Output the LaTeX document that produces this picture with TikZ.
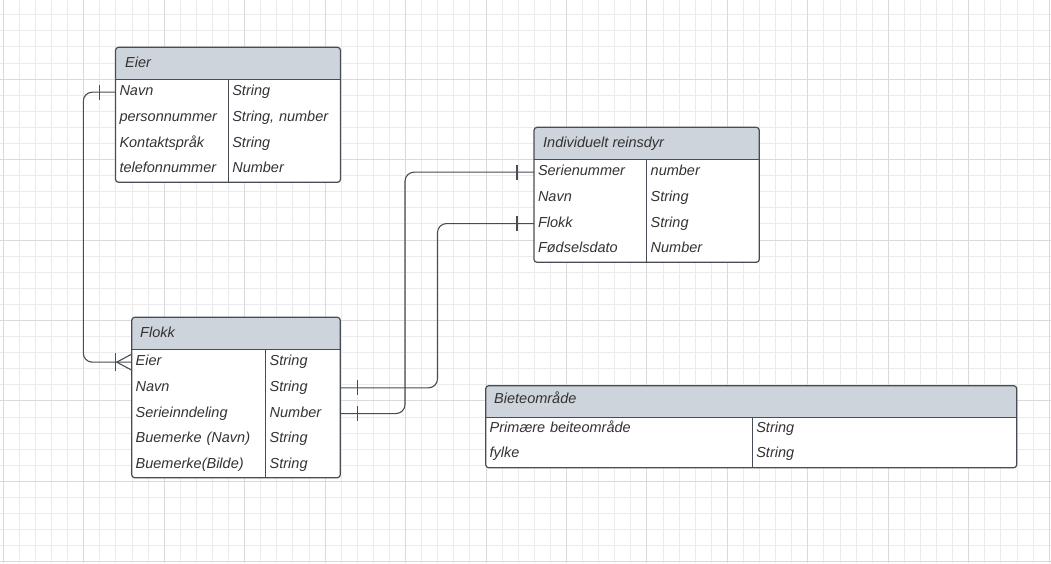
\documentclass[tikz,border=0pt]{standalone}
\usepackage{fontspec}
\setmainfont{Liberation Sans}
\usepackage{xcolor}
\usepackage{tikz}
\usetikzlibrary{positioning}

\definecolor{headfill}{HTML}{CED4DB}
\definecolor{edgegrey}{HTML}{474D54}
\definecolor{textgrey}{HTML}{333333}
\definecolor{gridlight}{HTML}{EBEBEB}
\definecolor{griddark}{HTML}{DADADA}

\begin{document}
\begin{tikzpicture}[x=1pt, y=-1pt,
        gridminor/.style={draw=gridlight, line width=0.9pt},
        gridmajor/.style={draw=griddark, line width=0.9pt},
        tblbox/.style={draw=edgegrey, line width=1.2pt, rounded corners=3pt},
        tblline/.style={draw=edgegrey, line width=1.1pt},
        headtxt/.style={anchor=base west, inner sep=0pt, text=textgrey,
            font=\fontsize{14.5}{16}\selectfont\itshape},
        cell/.style={anchor=north west, inner xsep=4pt, inner ysep=0pt, outer sep=0pt,
            minimum height=25.7pt, text height=10pt, text depth=3pt,
            text width=#1, align=left, text=textgrey,
            font=\fontsize{14.5}{16}\selectfont\itshape},
        conn/.style={draw=edgegrey, line width=1.1pt, rounded corners=9pt},
        onebar/.style={draw=edgegrey, line width=1.1pt}]

            \useasboundingbox (0,0) rectangle (1051,563);
            \fill[white] (0,0) rectangle (1051,563);

            % grid
            \foreach \k in {0,...,65}
                \draw[gridminor] ({3.3+16.09*\k},0) -- ({3.3+16.09*\k},563);
            \foreach \k in {0,...,34}
                \draw[gridminor] (0,{14.7+16.09*\k}) -- (1051,{14.7+16.09*\k});
            \foreach \k in {0,...,13}
                \draw[gridmajor] ({3.3+80.45*\k},0) -- ({3.3+80.45*\k},563);
            \foreach \k in {0,...,6}
                \draw[gridmajor] (0,{79.1+80.45*\k}) -- (1051,{79.1+80.45*\k});

            % Eier
            \fill[white, rounded corners=3pt] (115.5,47.3) rectangle (340.5,182.3);
            \fill[headfill, rounded corners=3pt] (115.5,47.3) rectangle (340.5,79.3);
            \fill[headfill] (115.5,55) rectangle (340.5,79.3);
            \draw[tblline] (115.5,79.3) -- (340.5,79.3);
            \draw[tblline] (228.3,79.3) -- (228.3,182.3);
            \draw[tblbox] (115.5,47.3) rectangle (340.5,182.3);
            \node[headtxt] (eier) at (125,67.4) {Eier};
            \node[cell=104.8pt] (eier-navn) at (115.5,79.3) {Navn};
            \node[cell=104.8pt] (eier-pnr) at (eier-navn.south west) {personnummer};
            \node[cell=104.8pt] (eier-sprak) at (eier-pnr.south west) {Kontaktspråk};
            \node[cell=104.8pt] (eier-tlf) at (eier-sprak.south west) {telefonnummer};
            \node[cell=104.2pt] (eier-navn-t) at (eier-navn.north east) {String};
            \node[cell=104.2pt] (eier-pnr-t) at (eier-pnr.north east) {String, number};
            \node[cell=104.2pt] (eier-sprak-t) at (eier-sprak.north east) {String};
            \node[cell=104.2pt] (eier-tlf-t) at (eier-tlf.north east) {Number};

            % Individuelt reinsdyr
            \fill[white, rounded corners=3pt] (534,127.3) rectangle (759.3,262.3);
            \fill[headfill, rounded corners=3pt] (534,127.3) rectangle (759.3,159.3);
            \fill[headfill] (534,135) rectangle (759.3,159.3);
            \draw[tblline] (534,159.3) -- (759.3,159.3);
            \draw[tblline] (646.7,159.3) -- (646.7,262.3);
            \draw[tblbox] (534,127.3) rectangle (759.3,262.3);
            \node[headtxt] (ind) at (543,147.4) {Individuelt reinsdyr};
            \node[cell=104.7pt] (ind-seri) at (534,159.3) {Serienummer};
            \node[cell=104.7pt] (ind-navn) at (ind-seri.south west) {Navn};
            \node[cell=104.7pt] (ind-flokk) at (ind-navn.south west) {Flokk};
            \node[cell=104.7pt] (ind-fdato) at (ind-flokk.south west) {Fødselsdato};
            \node[cell=104.6pt] (ind-seri-t) at (ind-seri.north east) {number};
            \node[cell=104.6pt] (ind-navn-t) at (ind-navn.north east) {String};
            \node[cell=104.6pt] (ind-flokk-t) at (ind-flokk.north east) {String};
            \node[cell=104.6pt] (ind-fdato-t) at (ind-fdato.north east) {Number};

            % Flokk
            \fill[white, rounded corners=3pt] (131.7,317.3) rectangle (340.3,477.7);
            \fill[headfill, rounded corners=3pt] (131.7,317.3) rectangle (340.3,349.3);
            \fill[headfill] (131.7,325) rectangle (340.3,349.3);
            \draw[tblline] (131.7,349.3) -- (340.3,349.3);
            \draw[tblline] (265.7,349.3) -- (265.7,477.7);
            \draw[tblbox] (131.7,317.3) rectangle (340.3,477.7);
            \node[headtxt] (flokk) at (140,337) {Flokk};
            \node[cell=126pt] (flokk-eier) at (131.7,349.3) {Eier};
            \node[cell=126pt] (flokk-navn) at (flokk-eier.south west) {Navn};
            \node[cell=126pt] (flokk-serie) at (flokk-navn.south west) {Serieinndeling};
            \node[cell=126pt] (flokk-bmnavn) at (flokk-serie.south west) {Buemerke (Navn)};
            \node[cell=126pt] (flokk-bmbilde) at (flokk-bmnavn.south west) {Buemerke(Bilde)};
            \node[cell=66.6pt] (flokk-eier-t) at (flokk-eier.north east) {String};
            \node[cell=66.6pt] (flokk-navn-t) at (flokk-navn.north east) {String};
            \node[cell=66.6pt] (flokk-serie-t) at (flokk-serie.north east) {Number};
            \node[cell=66.6pt] (flokk-bmnavn-t) at (flokk-bmnavn.north east) {String};
            \node[cell=66.6pt] (flokk-bmbilde-t) at (flokk-bmbilde.north east) {String};

            % Bieteområde
            \fill[white, rounded corners=3pt] (485.7,385.7) rectangle (1016.7,467.7);
            \fill[headfill, rounded corners=3pt] (485.7,385.7) rectangle (1016.7,417.3);
            \fill[headfill] (485.7,393) rectangle (1016.7,417.3);
            \draw[tblline] (485.7,417.3) -- (1016.7,417.3);
            \draw[tblline] (752.3,417.3) -- (752.3,467.7);
            \draw[tblbox] (485.7,385.7) rectangle (1016.7,467.7);
            \node[headtxt] (beite) at (494,403.8) {Bieteområde};
            \node[cell=258.6pt, minimum height=25.2pt] (beite-prim) at (485.7,416.5) {Primære beiteområde};
            \node[cell=258.6pt, minimum height=25.2pt] (beite-fylke) at (beite-prim.south west) {fylke};
            \node[cell=256.4pt, minimum height=25.2pt] (beite-prim-t) at (beite-prim.north east) {String};
            \node[cell=256.4pt, minimum height=25.2pt] (beite-fylke-t) at (beite-fylke.north east) {String};

            % connectors
            \coordinate (laneA) at (83.3,0);
            \coordinate (laneB) at (405,0);
            \coordinate (laneC) at (437.5,0);

            \draw[conn] (eier-navn.west) -- (eier-navn.west -| laneA) |- (flokk-eier.west);
            \draw[onebar] ([xshift=-16pt]eier-navn.west) ++(0,-7.5) -- ++(0,15);
            \draw[onebar] ([xshift=-16.5pt]flokk-eier.west) ++(0,-9) -- ++(0,18);
            \draw[onebar] ([xshift=-15pt]flokk-eier.west) -- ([yshift=8pt]flokk-eier.west);
            \draw[onebar] ([xshift=-15pt]flokk-eier.west) -- ([yshift=-8pt]flokk-eier.west);

            \draw[conn] (ind-seri.west) -- (ind-seri.west -| laneB) |- (flokk-serie-t.east);
            \draw[onebar] ([xshift=-17pt]ind-seri.west) ++(0,-7.5) -- ++(0,15);
            \draw[onebar] ([xshift=17pt]flokk-serie-t.east) ++(0,-7.5) -- ++(0,15);

            \draw[conn] (ind-flokk.west) -- (ind-flokk.west -| laneC) |- (flokk-navn-t.east);
            \draw[onebar] ([xshift=-17pt]ind-flokk.west) ++(0,-7.5) -- ++(0,15);
            \draw[onebar] ([xshift=17pt]flokk-navn-t.east) ++(0,-7.5) -- ++(0,15);
        \end{tikzpicture}
\end{document}
